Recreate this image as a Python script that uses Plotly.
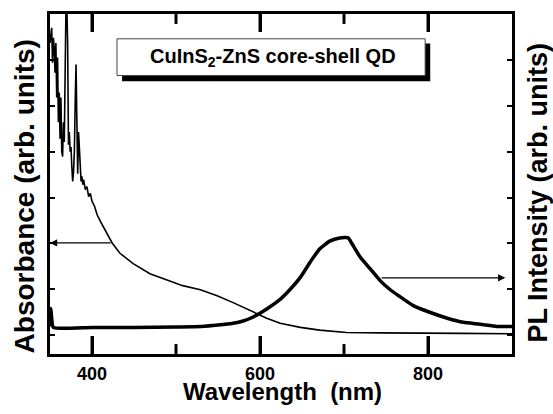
import plotly.graph_objects as go

# Absorbance spectrum (left axis, arb. units)
abs_nm = [350, 351, 352, 353, 354, 355, 356, 357, 358, 359, 360, 361, 362, 363, 364, 365,
          366, 367, 368, 369, 370, 371, 372, 373, 374, 375, 376, 377, 378, 379, 380, 381,
          382, 383, 384, 385, 386, 387, 388, 389, 390, 392, 394, 396, 398, 400, 403, 406,
          410, 416, 424, 433, 449, 469, 489, 508, 529, 549, 568, 588, 608, 624, 648, 671,
          703, 743, 780, 840, 900]
abs_val = [0.637, 0.659, 0.670, 0.594, 0.648, 0.626, 0.572, 0.637, 0.518, 0.605, 0.464,
           0.529, 0.428, 0.518, 0.400, 0.389, 0.464, 0.421, 0.594, 0.713, 0.720, 0.637,
           0.415, 0.443, 0.400, 0.410, 0.367, 0.335, 0.356, 0.400, 0.508, 0.590, 0.464,
           0.352, 0.443, 0.400, 0.356, 0.335, 0.346, 0.328, 0.339, 0.317, 0.324, 0.302,
           0.309, 0.292, 0.281, 0.263, 0.248, 0.227, 0.201, 0.179, 0.156, 0.134, 0.121,
           0.108, 0.099, 0.086, 0.071, 0.054, 0.037, 0.026, 0.017, 0.011, 0.006, 0.005,
           0.004, 0.004, 0.003]

# PL spectrum (right axis, arb. units)
pl_nm = [350, 351, 352, 354, 400, 450, 500, 530, 550, 568, 580, 590, 600, 612, 624, 636,
         648, 660, 671, 683, 695, 705, 709, 719, 731, 743, 755, 765, 782, 802, 823, 842,
         862, 882, 900]
pl_val = [0.019, 0.058, 0.037, 0.017, 0.017, 0.017, 0.018, 0.019, 0.022, 0.026, 0.031,
          0.038, 0.048, 0.062, 0.078, 0.100, 0.126, 0.160, 0.188, 0.205, 0.212, 0.212,
          0.201, 0.171, 0.145, 0.119, 0.099, 0.086, 0.065, 0.050, 0.037, 0.028, 0.024,
          0.019, 0.019]

x_major = [400, 600, 800]
x_minor = [500, 700]
y_ticks = [0, 0.1, 0.2, 0.3, 0.4, 0.5, 0.6, 0.7]
x_range = [350, 900]
y_range = [-0.041, 0.7]

# arrows pointing to the axes: (start nm, end nm, level)
abs_arrow = (424, 350, 0.201)
pl_arrow = (743, 892, 0.125)

FONT = "Liberation Sans, Arial, Helvetica, sans-serif"
PLOT_H = 414 - 11 - 60  # plot area height in px

fig = go.Figure()
fig.add_trace(go.Scatter(x=abs_nm, y=abs_val, mode="lines",
                         line=dict(color="black", width=1.6), yaxis="y"))
fig.add_trace(go.Scatter(x=pl_nm, y=pl_val, mode="lines",
                         line=dict(color="black", width=3.5, shape="spline", smoothing=0.5),
                         yaxis="y2"))

fig.update_layout(
    width=553, height=414,
    margin=dict(l=50, r=41, t=11, b=60),
    paper_bgcolor="white", plot_bgcolor="white",
    showlegend=False,
    font=dict(family=FONT, color="black"),
    xaxis=dict(range=x_range, tickmode="array", tickvals=x_major,
               ticks="inside", ticklen=18, tickwidth=3, tickcolor="black",
               showline=True, linecolor="black", linewidth=3, mirror="ticks",
               showgrid=False, zeroline=False, ticklabelstandoff=1,
               tickfont=dict(size=18, weight="bold", family=FONT)),
    yaxis=dict(range=y_range, tickvals=y_ticks, ticks="inside", ticklen=5, tickwidth=2,
               tickcolor="black", showticklabels=False, showline=True, linecolor="black",
               linewidth=3, mirror=True, showgrid=False, zeroline=False),
    yaxis2=dict(range=y_range, tickvals=y_ticks, ticks="inside", ticklen=5, tickwidth=2,
                tickcolor="black", showticklabels=False, showline=False,
                overlaying="y", side="right",
                showgrid=False, zeroline=False),
)

# inward x ticks (bottom and top), drawn at the tick values
for vals, length in [(x_major, 18), (x_minor, 10)]:
    frac = length / PLOT_H
    for v in vals:
        for y0, y1 in [(0, frac), (1, 1 - frac)]:
            fig.add_shape(type="line", xref="x", yref="paper", x0=v, x1=v, y0=y0, y1=y1,
                          line=dict(color="black", width=3), layer="above")

# arrows
for (x0, x1, yv), yr in [(abs_arrow, "y"), (pl_arrow, "y2")]:
    fig.add_annotation(x=x1, y=yv, ax=x0, ay=yv, xref="x", yref=yr, axref="x", ayref=yr,
                       text="", showarrow=True, arrowhead=2, arrowsize=1.2,
                       arrowwidth=1.2, arrowcolor="black")

# label box with shadow
fig.add_shape(type="rect", xref="paper", yref="paper", x0=0.156, x1=0.823, y0=0.802, y1=0.913,
              fillcolor="black", line=dict(width=0), layer="above")
fig.add_shape(type="rect", xref="paper", yref="paper", x0=0.145, x1=0.812, y0=0.819, y1=0.927,
              fillcolor="white", line=dict(color="#444", width=1), layer="above")
fig.add_annotation(xref="paper", yref="paper", x=0.482, y=0.873, showarrow=False,
                   text="<b>CuInS<sub>2</sub>-ZnS core-shell QD</b>",
                   font=dict(size=20, family=FONT, color="black"),
                   xanchor="center", yanchor="middle")

# axis titles
fig.add_annotation(xref="paper", yref="paper", x=(282 - 50) / 462, y=(354 - 392) / 343,
                   text="<b>Wavelength  (nm)</b>", showarrow=False,
                   font=dict(size=24, family=FONT, color="black"),
                   xanchor="center", yanchor="middle")
fig.add_annotation(xref="paper", yref="paper", x=(24 - 50) / 462, y=(354 - 195) / 343,
                   text="<b>Absorbance (arb. units)</b>", showarrow=False, textangle=-90,
                   font=dict(size=28, family=FONT, color="black"),
                   xanchor="center", yanchor="middle")
fig.add_annotation(xref="paper", yref="paper", x=(538 - 50) / 462, y=(354 - 191) / 343,
                   text="<b>PL Intensity (arb. units)</b>", showarrow=False, textangle=-90,
                   font=dict(size=27, family=FONT, color="black"),
                   xanchor="center", yanchor="middle")

fig.write_html("out.html", config={"displayModeBar": False},
               post_script="document.body.style.margin='0';document.body.style.overflow='hidden';")
